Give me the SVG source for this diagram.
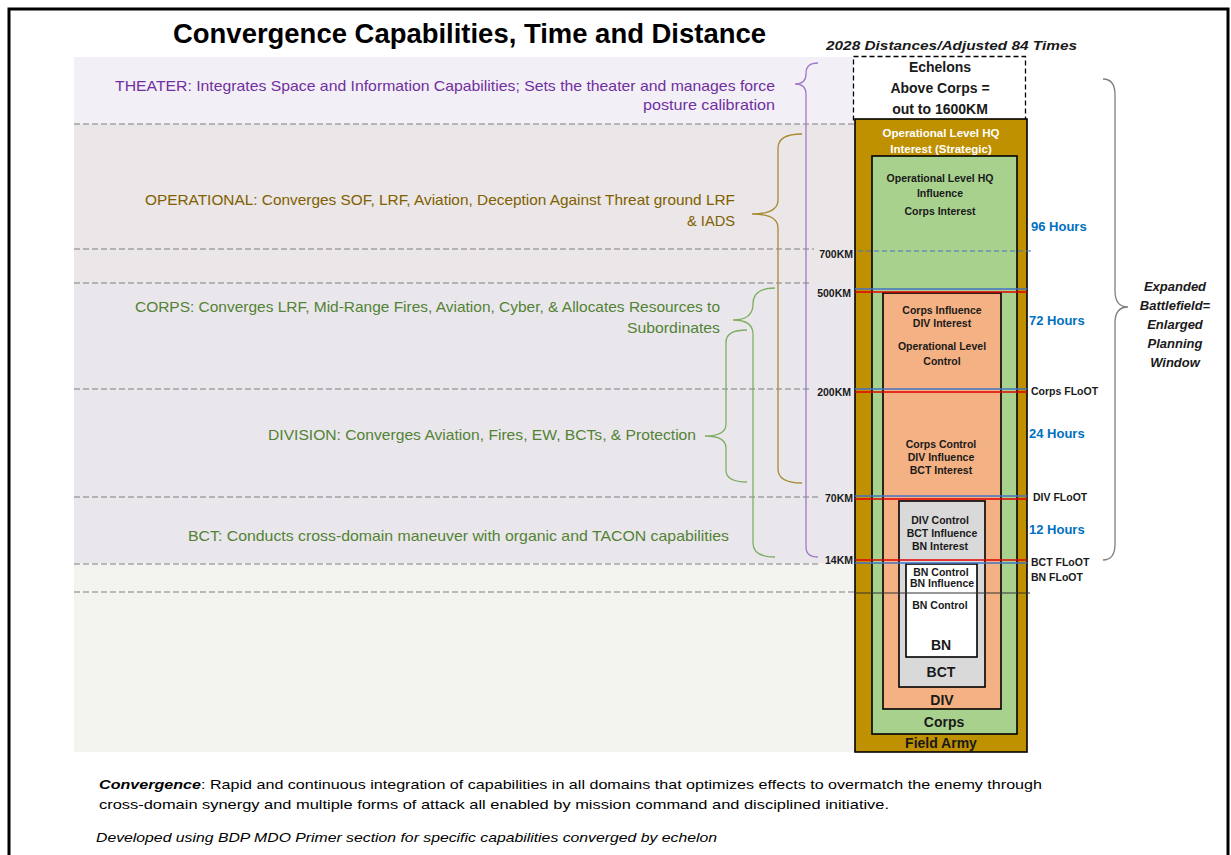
<svg xmlns="http://www.w3.org/2000/svg" width="1231" height="855" viewBox="0 0 1231 855">
<style>
  text { font-family: "Liberation Sans", Arial, sans-serif; }
  .dash { stroke: #7f7f7f; stroke-width: 1.2; stroke-dasharray: 6 3; fill: none; }
  .box { stroke: #000; stroke-width: 1.6; }
  .bt { font-size: 10.5px; font-weight: bold; fill: #1a1a1a; text-anchor: middle; }
  .big { font-size: 14px; font-weight: bold; fill: #1a1a1a; text-anchor: middle; }
  .km { font-size: 10.5px; font-weight: bold; fill: #1a1a1a; text-anchor: end; }
  .hrs { font-size: 13px; font-weight: bold; fill: #0070c0; }
  .floot { font-size: 10.5px; font-weight: bold; fill: #1a1a1a; }
  .lbl { font-size: 14.5px; }
  .brace { fill: none; stroke-width: 1.3; }
  .blue { stroke: #4472c4; stroke-width: 1.5; }
  .red { stroke: #e00000; stroke-width: 1.5; }
</style>

<rect x="0" y="0" width="1231" height="855" fill="#ffffff"/>
<g id="frame"><rect x="9" y="9" width="1219" height="870" fill="none" stroke="#000" stroke-width="3"/></g>

<g id="bands">
  <rect x="74" y="57" width="780" height="67" fill="#f3eff7"/>
  <rect x="74" y="124" width="781" height="159" fill="#ebe6e7"/>
  <rect x="74" y="283" width="781" height="280" fill="#e9e7ec"/>
  <rect x="74" y="563" width="781" height="189" fill="#f3f4f0"/>
</g>

<g id="title">
  <text x="173" y="43" font-size="27" font-weight="bold" fill="#000" textLength="593" lengthAdjust="spacingAndGlyphs">Convergence Capabilities, Time and Distance</text>
  <text x="826" y="50" font-size="13.5" font-weight="bold" font-style="italic" fill="#1a1a1a" textLength="251" lengthAdjust="spacingAndGlyphs">2028 Distances/Adjusted 84 Times</text>
</g>

<g id="echelons-above-corps">
  <rect x="853.5" y="56.5" width="172" height="64" fill="#fff" stroke="#000" stroke-width="1.3" stroke-dasharray="5 3"/>
  <text class="big" x="940" y="72" font-size="14.5">Echelons</text>
  <text class="big" x="940" y="93" font-size="14.5">Above Corps =</text>
  <text class="big" x="940" y="114" font-size="14.5">out to 1600KM</text>
</g>

<g id="field-army">
  <rect class="box" x="855" y="119" width="172" height="633" fill="#bf9000"/>
  <text x="941" y="137" font-size="11.5" font-weight="bold" fill="#fff" text-anchor="middle">Operational Level HQ</text>
  <text x="941" y="153" font-size="11.5" font-weight="bold" fill="#fff" text-anchor="middle">Interest (Strategic)</text>
  <text class="big" x="941" y="748">Field Army</text>
</g>

<g id="corps">
  <rect class="box" x="872" y="156" width="145" height="578" fill="#a9d18e"/>
  <text class="bt" x="940" y="182">Operational Level HQ</text>
  <text class="bt" x="940" y="197">Influence</text>
  <text class="bt" x="940" y="215">Corps Interest</text>
  <text class="big" x="944" y="727">Corps</text>
</g>

<g id="div">
  <rect class="box" x="883" y="293" width="118" height="416" fill="#f4b183"/>
  <text class="bt" x="942" y="314">Corps Influence</text>
  <text class="bt" x="942" y="327">DIV Interest</text>
  <text class="bt" x="942" y="350">Operational Level</text>
  <text class="bt" x="942" y="365">Control</text>
  <text class="bt" x="941" y="448">Corps Control</text>
  <text class="bt" x="941" y="461">DIV Influence</text>
  <text class="bt" x="941" y="474">BCT Interest</text>
  <text class="big" x="942" y="705">DIV</text>
</g>

<g id="bct">
  <rect class="box" x="899" y="501" width="86" height="186" fill="#d9d9d9"/>
  <text class="bt" x="940" y="524">DIV Control</text>
  <text class="bt" x="942" y="537">BCT Influence</text>
  <text class="bt" x="940" y="550">BN Interest</text>
  <text class="big" x="941" y="677">BCT</text>
</g>

<g id="bn">
  <rect class="box" x="906" y="564" width="71" height="93" fill="#ffffff"/>
  <text class="bt" x="941" y="576" font-size="10">BN Control</text>
  <text class="bt" x="942" y="587" font-size="10">BN Influence</text>
  <text class="bt" x="940" y="609" font-size="10">BN Control</text>
  <text class="big" x="941" y="650">BN</text>
</g>

<g id="connectors">
  <line class="dash" x1="74" y1="124" x2="855" y2="124"/>
  <line class="dash" x1="74" y1="249" x2="814" y2="249"/>
  <line class="dash" x1="74" y1="283" x2="810" y2="283"/>
  <line class="dash" x1="74" y1="389" x2="811" y2="389"/>
  <line class="dash" x1="74" y1="497" x2="820" y2="497"/>
  <line class="dash" x1="74" y1="564" x2="818" y2="564"/>
  <line class="dash" x1="74" y1="592" x2="855" y2="592"/>
  <line x1="855" y1="593" x2="1030" y2="593" stroke="#333" stroke-width="1"/>
  <line x1="858" y1="251" x2="1032" y2="251" stroke="#4472c4" stroke-width="1.2" stroke-dasharray="5 3"/>
  <line class="blue" x1="855" y1="289" x2="1027" y2="289"/>
  <line class="red" x1="855" y1="292" x2="1027" y2="292"/>
  <line class="blue" x1="855" y1="389" x2="1027" y2="389"/>
  <line class="red" x1="855" y1="392" x2="1027" y2="392"/>
  <line class="blue" x1="855" y1="496" x2="1027" y2="496"/>
  <line class="red" x1="855" y1="499" x2="1027" y2="499"/>
  <line class="red" x1="855" y1="560" x2="1027" y2="560"/>
  <line class="blue" x1="855" y1="563" x2="1027" y2="563"/>
  <path class="brace" stroke="#a07cc8" d="M818 63 Q806 63 806 73 L806 74 Q806 84 795 84 Q806 84 806 94 L806 547 Q806 557 818 557"/>
  <path class="brace" stroke="#a88a30" d="M802 134 Q778 134 778 148 L778 200 Q778 214 752 214 Q778 214 778 228 L778 469 Q778 483 802 483"/>
  <path class="brace" stroke="#7fae62" d="M775 288 Q753 288 753 304 Q753 320 733 320 Q753 320 753 334 L753 543 Q753 557 775 557"/>
  <path class="brace" stroke="#7fae62" d="M747 330 Q726 330 726 342 L726 424 Q726 436 705 436 Q726 436 726 448 L726 470 Q726 482 747 482"/>
  <path class="brace" stroke="#7f7f7f" d="M1103 79 Q1115 79 1115 95 L1115 291 Q1115 307 1128 307 Q1115 307 1115 323 L1115 544 Q1115 560 1103 560"/>
</g>

<g id="km-labels">
  <text class="km" x="853" y="258">700KM</text>
  <text class="km" x="851" y="297">500KM</text>
  <text class="km" x="851" y="396">200KM</text>
  <text class="km" x="853" y="502">70KM</text>
  <text class="km" x="853" y="564">14KM</text>
</g>

<g id="time-labels">
  <text class="hrs" x="1031" y="231">96 Hours</text>
  <text class="hrs" x="1029" y="325">72 Hours</text>
  <text class="hrs" x="1029" y="438">24 Hours</text>
  <text class="hrs" x="1029" y="534">12 Hours</text>
  <text class="floot" x="1031" y="395">Corps FLoOT</text>
  <text class="floot" x="1033" y="501">DIV FLoOT</text>
  <text class="floot" x="1031" y="566">BCT FLoOT</text>
  <text class="floot" x="1031" y="581">BN FLoOT</text>
</g>

<g id="expanded-battlefield" font-size="13" font-weight="bold" font-style="italic" fill="#1a1a1a" text-anchor="middle">
  <text x="1175" y="291">Expanded</text>
  <text x="1175" y="310">Battlefield=</text>
  <text x="1175" y="329">Enlarged</text>
  <text x="1175" y="348">Planning</text>
  <text x="1175" y="367">Window</text>
</g>

<g id="theater-label" fill="#7030a0">
  <text class="lbl" x="115" y="91" textLength="660" lengthAdjust="spacingAndGlyphs">THEATER: Integrates Space and Information Capabilities; Sets the theater and manages force</text>
  <text class="lbl" x="643" y="110" textLength="132" lengthAdjust="spacingAndGlyphs">posture calibration</text>
</g>
<g id="operational-label" fill="#806000">
  <text class="lbl" x="145" y="205" textLength="590" lengthAdjust="spacingAndGlyphs">OPERATIONAL: Converges SOF, LRF, Aviation, Deception Against Threat ground LRF</text>
  <text class="lbl" x="687" y="226" textLength="48" lengthAdjust="spacingAndGlyphs">&amp; IADS</text>
</g>
<g id="corps-label" fill="#548235">
  <text class="lbl" x="135" y="312" textLength="585" lengthAdjust="spacingAndGlyphs">CORPS: Converges LRF, Mid-Range Fires, Aviation, Cyber, &amp; Allocates Resources to</text>
  <text class="lbl" x="627" y="333" textLength="93" lengthAdjust="spacingAndGlyphs">Subordinates</text>
</g>
<g id="division-label" fill="#548235">
  <text class="lbl" x="268" y="440" textLength="428" lengthAdjust="spacingAndGlyphs">DIVISION: Converges Aviation, Fires, EW, BCTs, &amp; Protection</text>
</g>
<g id="bct-label" fill="#548235">
  <text class="lbl" x="188" y="541" textLength="541" lengthAdjust="spacingAndGlyphs">BCT: Conducts cross-domain maneuver with organic and TACON capabilities</text>
</g>

<g id="footer" fill="#000">
  <text x="99" y="789" font-size="13.5" textLength="943" lengthAdjust="spacingAndGlyphs"><tspan font-weight="bold" font-style="italic">Convergence</tspan>: Rapid and continuous integration of capabilities in all domains that optimizes effects to overmatch the enemy through</text>
  <text x="99" y="809" font-size="13.5" textLength="790" lengthAdjust="spacingAndGlyphs">cross-domain synergy and multiple forms of attack all enabled by mission command and disciplined initiative.</text>
  <text x="96" y="842" font-size="13.5" font-style="italic" textLength="621" lengthAdjust="spacingAndGlyphs">Developed using BDP MDO Primer section for specific capabilities converged by echelon</text>
</g>
</svg>
